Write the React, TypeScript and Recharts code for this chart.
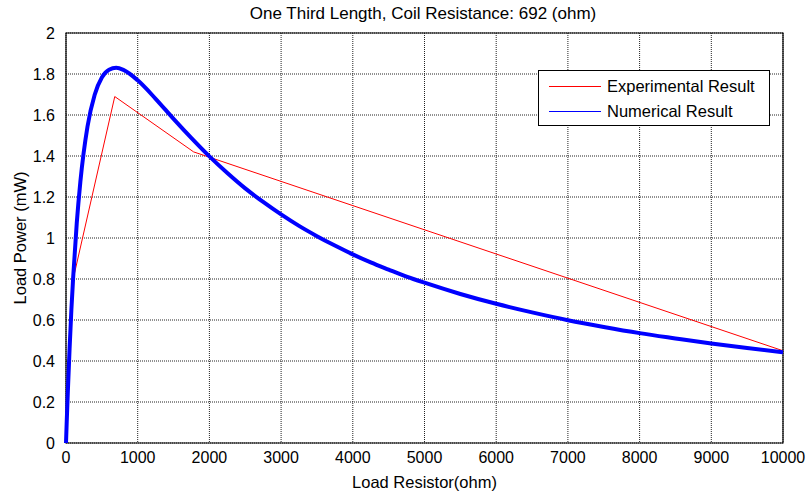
import { CartesianGrid, Line, LineChart, ReferenceArea, XAxis, YAxis } from "recharts";

const X_TICKS = [0, 1000, 2000, 3000, 4000, 5000, 6000, 7000, 8000, 9000, 10000];
const Y_TICKS = [0, 0.2, 0.4, 0.6, 0.8, 1, 1.2, 1.4, 1.6, 1.8, 2];

// experimental measurements (load resistor ohm, power mW)
const expR = [120, 680, 1780, 10000];
const expP = [0.83, 1.69, 1.42, 0.45];

// numerical curve
const numR = [0, 10, 25, 50, 75, 100, 150, 200, 300, 400, 500, 600, 700, 800, 1000, 1250, 1500, 1750, 2000, 2250, 2500, 2750, 3000, 3250, 3500, 3750, 4000, 4250, 4500, 4750, 5000, 5500, 6000, 6500, 7000, 7500, 8000, 8500, 9000, 9500, 10000];
const numP = [0, 0.103, 0.246, 0.46, 0.65, 0.808, 1.072, 1.273, 1.544, 1.699, 1.783, 1.821, 1.83, 1.82, 1.769, 1.679, 1.581, 1.487, 1.398, 1.317, 1.242, 1.176, 1.115, 1.059, 1.009, 0.963, 0.92, 0.881, 0.846, 0.812, 0.782, 0.727, 0.679, 0.637, 0.599, 0.566, 0.536, 0.51, 0.485, 0.463, 0.443];

const expData = expR.map((r, i) => ({ r, p: expP[i] }));
const numData = numR.map((r, i) => ({ r, p: numP[i] }));

const FONT = "'Liberation Sans', Arial, sans-serif";

function LegendBox() {
  const rows = [
    { label: "Experimental Result", color: "#ff0000" },
    { label: "Numerical Result", color: "#0000ff" },
  ];
  return (
    <div
      style={{
        position: "absolute",
        left: 538,
        top: 70,
        width: 232,
        height: 56,
        border: "1px solid #000",
        background: "#fff",
        boxSizing: "border-box",
        paddingTop: 4,
      }}
    >
      {rows.map((row) => (
        <div key={row.label} style={{ display: "flex", alignItems: "center", height: 22, marginBottom: 3 }}>
          <div style={{ width: 52, height: 1, background: row.color, marginLeft: 10, marginRight: 6 }} />
          <span style={{ fontFamily: FONT, fontSize: 16.5, color: "#000", whiteSpace: "nowrap" }}>{row.label}</span>
        </div>
      ))}
    </div>
  );
}

export default function App() {
  return (
    <div style={{ position: "absolute", left: 0, top: 0, width: 806, height: 495, background: "#fff" }}>
      <LineChart width={806} height={495} margin={{ top: 33, right: 23, left: 0, bottom: 22 }}>
        <text x={423} y={19} textAnchor="middle" fontFamily={FONT} fontSize={17} fill="#000">
          One Third Length, Coil Resistance: 692 (ohm)
        </text>
        <CartesianGrid stroke="#222" strokeDasharray="1 1" />
        <XAxis
          dataKey="r"
          type="number"
          domain={[0, 10000]}
          ticks={X_TICKS}
          allowDuplicatedCategory={false}
          height={30}
          tickLine={false}
          axisLine={false}
          tickMargin={3}
          tick={{ fill: "#000", fontFamily: FONT, fontSize: 16 }}
          label={{ value: "Load Resistor(ohm)", position: "insideBottom", offset: -15, fill: "#000", fontFamily: FONT, fontSize: 16.5 }}
        />
        <YAxis
          type="number"
          domain={[0, 2]}
          ticks={Y_TICKS}
          width={66}
          tickLine={false}
          axisLine={false}
          tickMargin={5}
          tick={{ fill: "#000", fontFamily: FONT, fontSize: 16 }}
          label={{ value: "Load Power (mW)", angle: -90, position: "insideLeft", offset: 20, style: { textAnchor: "middle" }, fill: "#000", fontFamily: FONT, fontSize: 16.5 }}
        />
        <ReferenceArea x1={0} x2={10000} y1={0} y2={2} fill="none" stroke="#000" strokeWidth={1.2} />
        <Line data={expData} dataKey="p" name="Experimental Result" type="linear" stroke="#ff0000" strokeWidth={1} dot={false} isAnimationActive={false} />
        <Line data={numData} dataKey="p" name="Numerical Result" type="monotone" stroke="#0000ff" strokeWidth={4} dot={false} isAnimationActive={false} />
      </LineChart>
      <LegendBox />
    </div>
  );
}
